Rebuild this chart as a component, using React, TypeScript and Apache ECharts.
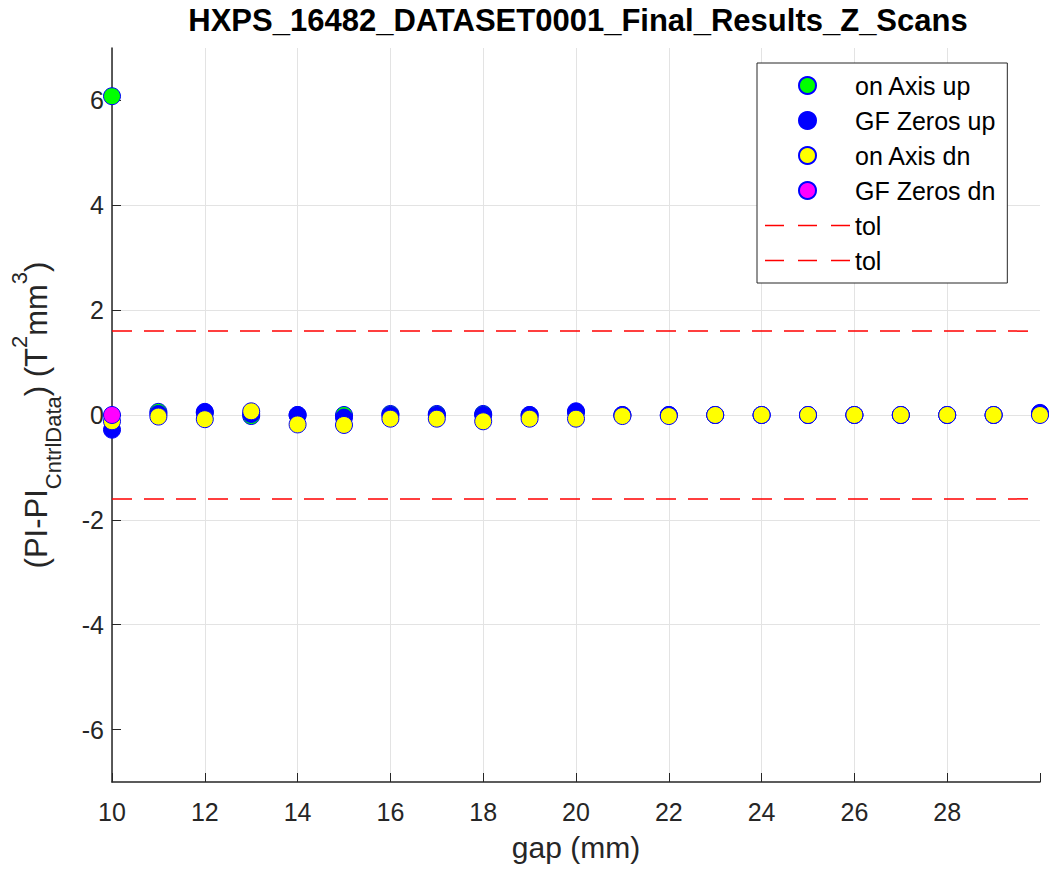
import React, { useEffect, useRef } from "react";
import * as echarts from "echarts";

const gaps = [10, 11, 12, 13, 14, 15, 16, 17, 18, 19, 20, 21, 22, 23, 24, 25, 26, 27, 28, 29, 30];
const onAxisUp = [6.08, 0.06, 0.04, -0.02, 0.0, 0.0, 0.02, 0.02, 0.02, 0.0, 0.05, 0.0, 0.0, 0.0, 0.0, 0.0, 0.0, 0.0, 0.0, 0.0, 0.02];
const gfZerosUp = [-0.28, 0.02, 0.06, 0.02, 0.0, -0.05, 0.0, 0.0, 0.0, 0.0, 0.07, 0.0, 0.0, 0.0, 0.0, 0.0, 0.0, 0.0, 0.0, 0.0, 0.04];
const onAxisDn = [-0.12, -0.03, -0.08, 0.07, -0.18, -0.19, -0.07, -0.07, -0.12, -0.07, -0.07, -0.02, -0.02, 0.0, 0.0, 0.0, 0.0, 0.0, 0.0, 0.0, 0.0];
const gfZerosDnGaps = [10];
const gfZerosDn = [0.0];
const tolUpper = 1.6;
const tolLower = -1.6;
const xTicks = [10, 12, 14, 16, 18, 20, 22, 24, 26, 28];
const yTicks = [-6, -4, -2, 0, 2, 4, 6];

const FONT = "'Liberation Sans', Arial, Helvetica, sans-serif";
const AXIS = "#262626";
const DASH_ICON = "path://M0 0h19v1.6H0zM33 0h19v1.6H33zM66 0h19v1.6H66z";

export default function App() {
  const ref = useRef<HTMLDivElement>(null);
  useEffect(() => {
    if (!ref.current) return;
    const chart = echarts.init(ref.current, undefined, { renderer: "svg" });
    const pts = (xs: number[], ys: number[]) => xs.map((x, i) => [x, ys[i]]);
    const scatter = (name: string, data: number[][], fill: string) => ({
      name,
      type: "scatter",
      data,
      symbol: "circle",
      symbolSize: 17,
      itemStyle: { color: fill, borderColor: "#0000ff", borderWidth: 1, opacity: 1 },
      emphasis: { disabled: true },
    });
    const tolLine = (name: string, v: number) => ({
      name,
      type: "line",
      data: [[gaps[0], v], [gaps[gaps.length - 1], v]],
      symbol: "none",
      lineStyle: { color: "#ff0000", width: 1.5, type: [20, 12] },
      itemStyle: { color: "#ff0000", borderWidth: 0 },
      emphasis: { disabled: true },
    });
    chart.setOption({
      animation: false,
      backgroundColor: "#ffffff",
      title: {
        text: "HXPS_16482_DATASET0001_Final_Results_Z_Scans",
        left: 573,
        textAlign: "center",
        top: 0,
        textStyle: { fontFamily: FONT, fontWeight: "bold", fontSize: 31, color: "#000" },
      },
      grid: { left: 112, right: 9, top: 48, bottom: 94, containLabel: false },
      legend: {
        orient: "vertical",
        left: 757,
        top: 63,
        padding: [10, 12, 10, 8],
        itemWidth: 85,
        itemHeight: 17,
        itemGap: 10,
        borderColor: AXIS,
        borderWidth: 1,
        backgroundColor: "#ffffff",
        textStyle: { fontFamily: FONT, fontSize: 25, color: "#000" },
        data: [
          "on Axis up",
          "GF Zeros up",
          "on Axis dn",
          "GF Zeros dn",
          { name: "tol", icon: DASH_ICON },
          { name: "tol ", icon: DASH_ICON },
        ],
      },
      xAxis: {
        type: "value",
        min: 10,
        max: 30,
        interval: 2,
        name: "gap (mm)",
        nameLocation: "middle",
        nameGap: 50,
        nameTextStyle: { fontFamily: FONT, fontSize: 30, color: AXIS },
        axisLine: { show: true, onZero: false, lineStyle: { color: AXIS, width: 1.5 } },
        axisTick: { show: true, inside: true, length: 9, lineStyle: { color: AXIS } },
        axisLabel: {
          fontFamily: FONT,
          fontSize: 25,
          color: AXIS,
          margin: 17,
          formatter: (v: number) => (xTicks.includes(v) ? String(v) : ""),
        },
        splitLine: { show: true, showMaxLine: false, lineStyle: { color: "#e3e3e3", width: 1 } },
      },
      yAxis: {
        type: "value",
        min: -7,
        max: 7,
        name: "(PI-PI{sub|CntrlData}) (T{sup|2}mm{sup|3})",
        nameLocation: "middle",
        nameGap: 48,
        nameTextStyle: {
          fontFamily: FONT,
          fontSize: 31,
          color: AXIS,
          lineHeight: 56,
          rich: {
            sub: { fontFamily: FONT, fontSize: 22, color: AXIS, lineHeight: 22, verticalAlign: "bottom" },
            sup: { fontFamily: FONT, fontSize: 22, color: AXIS, lineHeight: 42, verticalAlign: "top" },
          },
        },
        axisLine: { show: true, onZero: false, lineStyle: { color: AXIS, width: 1.5 } },
        axisTick: { show: true, inside: true, length: 9, lineStyle: { color: AXIS }, customValues: yTicks },
        axisLabel: { fontFamily: FONT, fontSize: 25, color: AXIS, margin: 8, customValues: yTicks },
        splitLine: { show: true, showMinLine: false, showMaxLine: false, lineStyle: { color: "#e3e3e3", width: 1 } },
      },
      series: [
        scatter("on Axis up", pts(gaps, onAxisUp), "#00ff00"),
        scatter("GF Zeros up", pts(gaps, gfZerosUp), "#0000ff"),
        scatter("on Axis dn", pts(gaps, onAxisDn), "#ffff00"),
        scatter("GF Zeros dn", pts(gfZerosDnGaps, gfZerosDn), "#ff00ff"),
        tolLine("tol", tolUpper),
        tolLine("tol ", tolLower),
      ],
    });
    return () => chart.dispose();
  }, []);
  return <div ref={ref} style={{ width: 1049, height: 876, position: "absolute", left: 0, top: 0 }} />;
}
